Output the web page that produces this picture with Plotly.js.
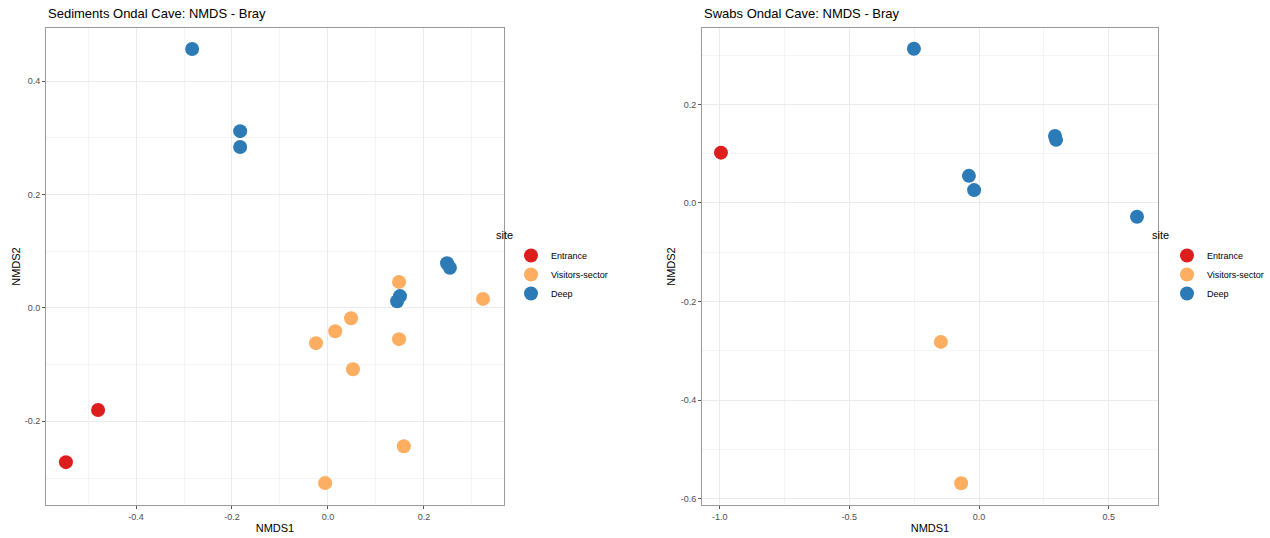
<!DOCTYPE html>
<html>
<head>
<meta charset="utf-8">
<script src="https://cdn.plot.ly/plotly-3.0.1.min.js"></script>
<style>html,body{margin:0;padding:0;background:#fff}#chart{width:1270px;height:538px}</style>
</head>
<body>
<div id="chart"></div>
<script>
// Sediments panel
const sedEntranceX = [-0.479, -0.546];
const sedEntranceY = [-0.180, -0.272];
const sedVisitorsX = [0.148, 0.323, 0.048, 0.015, -0.025, 0.148, 0.052, 0.158, -0.006];
const sedVisitorsY = [0.046, 0.016, -0.018, -0.041, -0.062, -0.055, -0.108, -0.244, -0.309];
const sedDeepX = [-0.283, -0.183, -0.183, 0.248, 0.254, 0.150, 0.144];
const sedDeepY = [0.457, 0.312, 0.284, 0.079, 0.071, 0.021, 0.012];
// Swabs panel
const swEntranceX = [-0.995];
const swEntranceY = [0.102];
const swVisitorsX = [-0.147, -0.069];
const swVisitorsY = [-0.282, -0.569];
const swDeepX = [-0.251, 0.293, 0.297, -0.039, -0.019, 0.609];
const swDeepY = [0.313, 0.136, 0.128, 0.055, 0.026, -0.028];

const siteNames = ['Entrance', 'Visitors-sector', 'Deep'];
const siteColors = ['#DC1F1C', '#FDAE61', '#2C7BB6'];
const legendTitle = 'site';

const sedXTicks = [-0.4, -0.2, 0.0, 0.2];
const sedXText = ['-0.4', '-0.2', '0.0', '0.2'];
const sedYTicks = [-0.2, 0.0, 0.2, 0.4];
const sedYText = ['-0.2', '0.0', '0.2', '0.4'];
const swXTicks = [-1.0, -0.5, 0.0, 0.5];
const swXText = ['-1.0', '-0.5', '0.0', '0.5'];
const swYTicks = [-0.6, -0.4, -0.2, 0.0, 0.2];
const swYText = ['-0.6', '-0.4', '-0.2', '0.0', '0.2'];

const FONT = 'Liberation Sans, Arial, Helvetica, sans-serif';

function tr(x, y, i, xa, ya, leg) {
  return {
    type: 'scatter', mode: 'markers', x: x, y: y, name: siteNames[i],
    xaxis: xa, yaxis: ya, legend: leg,
    marker: {color: siteColors[i], size: 14, line: {width: 0}},
    hoverinfo: 'x+y+name'
  };
}

const data = [
  tr(sedEntranceX, sedEntranceY, 0, 'x', 'y', 'legend'),
  tr(sedVisitorsX, sedVisitorsY, 1, 'x', 'y', 'legend'),
  tr(sedDeepX, sedDeepY, 2, 'x', 'y', 'legend'),
  tr(swEntranceX, swEntranceY, 0, 'x2', 'y2', 'legend2'),
  tr(swVisitorsX, swVisitorsY, 1, 'x2', 'y2', 'legend2'),
  tr(swDeepX, swDeepY, 2, 'x2', 'y2', 'legend2')
];

function axis(opts) {
  return Object.assign({
    showline: true, mirror: true, linecolor: '#9a9a9a', linewidth: 1,
    showgrid: true, gridcolor: '#EBEBEB', gridwidth: 1,
    zeroline: false, ticks: 'outside', ticklen: 3, tickcolor: '#555', tickwidth: 1,
    tickfont: {family: FONT, size: 9, color: '#4D4D4D'},
    tickmode: 'array'
  }, opts);
}

const H = 538, W = 1270;
const yDom = [(H - 505) / H, (H - 28) / H];
const titleFont = {family: FONT, size: 11, color: '#000'};

const layout = {
  width: W, height: H,
  margin: {l: 0, r: 0, t: 0, b: 0},
  paper_bgcolor: '#fff', plot_bgcolor: '#fff',
  font: {family: FONT, color: '#000'},
  showlegend: true,
  xaxis: axis({domain: [46 / W, 504 / W], range: [-0.5875, 0.3667], anchor: 'y',
    tickvals: sedXTicks, ticktext: sedXText,
    minor: {dtick: 0.1, tick0: 0.1, showgrid: true, gridcolor: '#F4F4F4', ticks: ''},
    title: {text: 'NMDS1', font: titleFont, standoff: 3}}),
  yaxis: axis({domain: yDom, range: [-0.3476, 0.494], anchor: 'x',
    tickvals: sedYTicks, ticktext: sedYText,
    minor: {dtick: 0.1, tick0: 0.1, showgrid: true, gridcolor: '#F4F4F4', ticks: ''},
    title: {text: 'NMDS2', font: titleFont, standoff: 1}}),
  xaxis2: axis({domain: [702 / W, 1158 / W], range: [-1.068, 0.690], anchor: 'y2',
    tickvals: swXTicks, ticktext: swXText,
    minor: {dtick: 0.25, tick0: 0.25, showgrid: true, gridcolor: '#F4F4F4', ticks: ''},
    title: {text: 'NMDS1', font: titleFont, standoff: 3}}),
  yaxis2: axis({domain: yDom, range: [-0.613, 0.355], anchor: 'x2',
    tickvals: swYTicks, ticktext: swYText,
    minor: {dtick: 0.1, tick0: 0.1, showgrid: true, gridcolor: '#F4F4F4', ticks: ''},
    title: {text: 'NMDS2', font: titleFont, standoff: 2}}),
  legend: {x: 511 / W, y: 1 - 241 / H, xanchor: 'left', yanchor: 'top',
    font: {family: FONT, size: 9, color: '#000'}, bgcolor: 'rgba(0,0,0,0)', tracegroupgap: 0},
  legend2: {x: 1167 / W, y: 1 - 241 / H, xanchor: 'left', yanchor: 'top',
    font: {family: FONT, size: 9, color: '#000'}, bgcolor: 'rgba(0,0,0,0)', tracegroupgap: 0},
  annotations: [
    {text: 'Sediments Ondal Cave: NMDS - Bray', xref: 'paper', yref: 'paper',
     x: 46 / W, y: 1 - 14 / H, xanchor: 'left', yanchor: 'middle', showarrow: false,
     font: {family: FONT, size: 13, color: '#000'}},
    {text: 'Swabs Ondal Cave: NMDS - Bray', xref: 'paper', yref: 'paper',
     x: 702 / W, y: 1 - 14 / H, xanchor: 'left', yanchor: 'middle', showarrow: false,
     font: {family: FONT, size: 13, color: '#000'}},
    {text: legendTitle, xref: 'paper', yref: 'paper',
     x: 494 / W, y: 1 - 235 / H, xanchor: 'left', yanchor: 'middle', showarrow: false,
     font: titleFont},
    {text: legendTitle, xref: 'paper', yref: 'paper',
     x: 1150 / W, y: 1 - 235 / H, xanchor: 'left', yanchor: 'middle', showarrow: false,
     font: titleFont}
  ]
};

Plotly.newPlot('chart', data, layout, {displayModeBar: false, staticPlot: true});
</script>
</body>
</html>
